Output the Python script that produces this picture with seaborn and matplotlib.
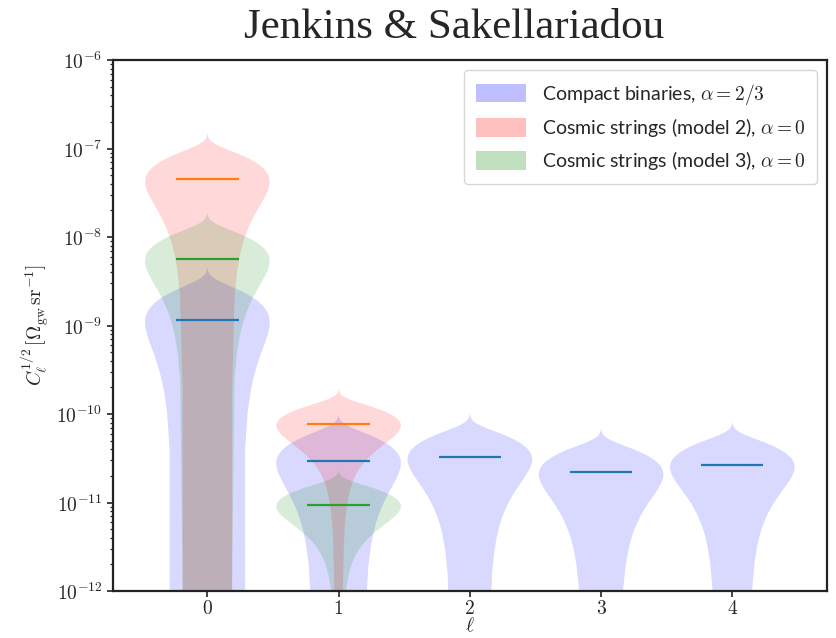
import numpy as np
import pandas as pd
import matplotlib
matplotlib.use("Agg")
import matplotlib.pyplot as plt
from matplotlib.patches import Patch
from matplotlib.ticker import FuncFormatter, LogLocator, NullFormatter
import seaborn as sns

# ---------------- data ----------------
ells = [0, 1, 2, 3, 4]
sources = [
    r"Compact binaries, $\alpha = 2/3$",
    r"Cosmic strings (model 2), $\alpha = 0$",
    r"Cosmic strings (model 3), $\alpha = 0$",
]
fill_colors = ["blue", "red", "green"]
median_colors = ["C0", "C1", "C2"]

# samples of C_ell^{1/2} (linear units) for each violin
cb_l0 = [0.10e-9, 0.50e-9, 0.85e-9, 1.17e-9, 1.50e-9, 1.95e-9, 2.50e-9]
cb_l1 = [0.72e-11, 1.55e-11, 2.29e-11, 2.95e-11, 3.63e-11, 4.56e-11, 5.71e-11]
cb_l2 = [1.07e-11, 1.87e-11, 2.60e-11, 3.24e-11, 3.90e-11, 4.81e-11, 5.93e-11]
cb_l3 = [0.72e-11, 1.27e-11, 1.76e-11, 2.19e-11, 2.64e-11, 3.25e-11, 4.01e-11]
cb_l4 = [0.93e-11, 1.57e-11, 2.14e-11, 2.65e-11, 3.17e-11, 3.90e-11, 4.78e-11]
cs2_l0 = [1.20e-8, 2.42e-8, 3.52e-8, 4.50e-8, 5.50e-8, 6.90e-8, 8.60e-8]
cs2_l1 = [4.06e-11, 5.41e-11, 6.62e-11, 7.70e-11, 8.81e-11, 10.34e-11, 12.21e-11]
cs3_l0 = [1.50e-9, 3.06e-9, 4.46e-9, 5.70e-9, 6.98e-9, 8.74e-9, 10.90e-9]
cs3_l1 = [4.99e-12, 6.63e-12, 8.10e-12, 9.40e-12, 10.74e-12, 12.59e-12, 14.86e-12]

samples = {
    (sources[0], 0): cb_l0, (sources[0], 1): cb_l1, (sources[0], 2): cb_l2,
    (sources[0], 3): cb_l3, (sources[0], 4): cb_l4,
    (sources[1], 0): cs2_l0, (sources[1], 1): cs2_l1,
    (sources[2], 0): cs3_l0, (sources[2], 1): cs3_l1,
}

y_ticks = [1e-12, 1e-11, 1e-10, 1e-9, 1e-8, 1e-7, 1e-6]

rows = []
for (src, ell), vals in samples.items():
    for v in vals:
        rows.append({"source": src, "ell": ell, "C": v})
df = pd.DataFrame(rows)

# ---------------- style ----------------
sns.set_style("ticks")
plt.rcParams["font.family"] = ["Lato", "DejaVu Sans"]
plt.rcParams["mathtext.fontset"] = "cm"

fig = plt.figure(figsize=(8.36, 6.38), dpi=100)
ax = fig.add_axes([0.135, 0.0737, 0.854, 0.832])

vwidth = 0.95
sns.violinplot(
    data=df, x="ell", y="C", hue="source",
    order=ells, hue_order=sources, palette=fill_colors,
    dodge=False, density_norm="width", width=vwidth,
    inner=None, cut=3, bw_method=0.8, saturation=1,
    linewidth=0, alpha=0.15, legend=False, ax=ax,
)

# median lines
for (src, ell), vals in samples.items():
    k = sources.index(src)
    pos = ells.index(ell)
    ax.hlines(np.median(vals), pos - vwidth / 4, pos + vwidth / 4,
              color=median_colors[k], lw=1.6, zorder=5)

ax.set_yscale("log")
ax.set_ylim(y_ticks[0], y_ticks[-1])
ax.set_xlim(-0.72, 4.72)
ax.set_yticks(y_ticks)
ax.yaxis.set_minor_locator(LogLocator(base=10, subs=np.arange(2, 10), numticks=20))
ax.yaxis.set_major_formatter(
    FuncFormatter(lambda v, p: r"$10^{%d}$" % int(round(np.log10(v)))))
ax.yaxis.set_minor_formatter(NullFormatter())
ax.set_xticks(range(len(ells)))
ax.set_xticklabels([r"$%d$" % l for l in ells])
ax.tick_params(axis="both", which="major", labelsize=14, direction="out",
               length=4, width=1.2, color="#222222")
ax.tick_params(axis="x", which="major", pad=2)
ax.tick_params(axis="y", which="minor", direction="out", length=2.5, width=0.9,
               color="#222222")
for s in ax.spines.values():
    s.set_linewidth(1.6)
    s.set_color("#222222")
    s.set_visible(True)

ax.set_xlabel(r"$\ell$", fontsize=14, labelpad=-1)
ax.set_ylabel(r"$C_\ell^{1/2}\,[\Omega_{\rm gw}\,{\rm sr}^{-1}]$", fontsize=14)

handles = [Patch(facecolor=c, alpha=0.25, edgecolor="none") for c in fill_colors]
ax.legend(handles, sources, loc="upper right", fontsize=14,
          handlelength=2.6, handleheight=1.1, borderpad=0.6,
          labelspacing=0.5, frameon=True)

fig.text(0.543, 0.957, "Jenkins & Sakellariadou", ha="center", va="center",
         fontsize=31, family=["Liberation Serif", "DejaVu Serif"])

fig.savefig("out.png", dpi=100)
